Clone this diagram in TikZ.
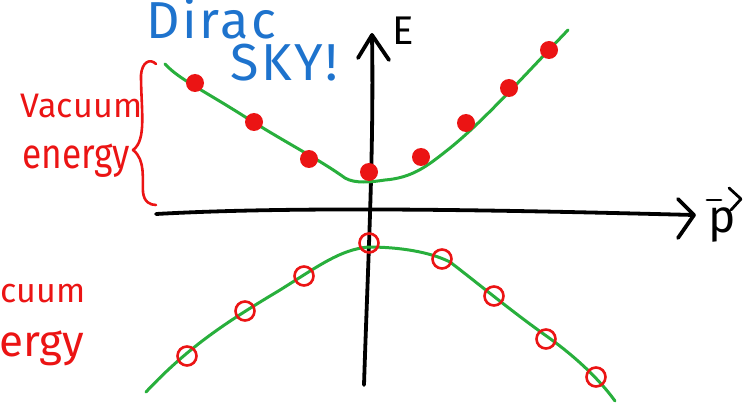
\documentclass[tikz,border=0pt]{standalone}
\usepackage{fontspec}
\setmainfont{Fira Sans}
\definecolor{cgreen}{RGB}{40,175,60}
\definecolor{cred}{RGB}{235,20,20}
\definecolor{cblue}{RGB}{30,115,205}
\begin{document}
\begin{tikzpicture}[x=1pt,y=-1pt,
  axisline/.style={line width=3.8pt,black,line cap=round,line join=round},
  curve/.style={line width=3pt,cgreen,line cap=round},
  filleddot/.style={circle,fill=cred,inner sep=0pt,minimum size=18pt},
  opendot/.style={circle,draw=cred,line width=2.6pt,inner sep=0pt,minimum size=19pt},
  redtext/.style={text=cred,inner sep=0pt,font=\fontsize{34}{34}\selectfont\addfontfeature{LetterSpace=1}},
  bigred/.style={text=cred,inner sep=0pt,font=\fontsize{42}{42}\selectfont},
  bluetext/.style={text=cblue,inner sep=0pt,font=\fontsize{52}{52}\selectfont\addfontfeature{LetterSpace=5}}]
\useasboundingbox (0,0) rectangle (750,409);
% texts
\node[bluetext,anchor=base west] (dirac) at (146,39) {Dirac};
\node[bluetext,anchor=base west] (sky) at (230,81) {SKY!};
\node[inner sep=0pt,anchor=base west,font=\fontsize{40}{40}\selectfont] (elabel) at (392,45) {E};
\node[inner sep=0pt,anchor=base west,font=\fontsize{46}{46}\selectfont] (plabel) at (708,233) {p};
\node[redtext,anchor=base west] (vac1) at (20,118) {Vacuum};
\node[bigred,anchor=base west,xscale=0.84] (en1) at (22,168) {energy};
\node[redtext,anchor=base west] (vac2) at (0,302) {cuum};
\node[bigred,anchor=base west,font=\fontsize{44}{44}\selectfont] (en2) at (-1,356) {ergy};
% brace
\draw[cred,line width=2.6pt,line cap=round,line join=round]
  (156,64) .. controls (150,58) and (142,62) .. (141,75)
  .. controls (141,110) and (147,140) .. (133,150)
  .. controls (146,160) and (142,180) .. (143,192)
  .. controls (144,202) and (150,205) .. (156,205);
% axes
\coordinate (vbot) at (364,385);
\coordinate (vtop) at (372,35);
\draw[axisline] (vbot) .. controls (368,260) and (374,150) .. (vtop);
\draw[axisline] (358,58) -- (vtop) -- (389,60);
\coordinate (hleft) at (156,214);
\coordinate (hright) at (694,215);
\draw[axisline] (hleft) .. controls (300,206) and (500,210) .. (hright);
\draw[axisline] (678,199) -- (hright) -- (678,238);
% vector arrow over p
\draw[line width=2.8pt,line cap=round] (707,200) -- (721,200);
\draw[line width=2.8pt,line cap=round,line join=round] (729,188) -- (741,199) -- (731,210);
% upper curve
\draw[curve] (165,64) .. controls (180,80) and (200,88) .. (250,120)
  .. controls (290,145) and (320,160) .. (345,178)
  .. controls (355,184) and (372,182) .. (385,180)
  .. controls (410,178) and (425,168) .. (445,152)
  .. controls (480,125) and (520,80) .. (568,30);
\foreach \p [count=\i] in {(195,83),(254,122),(309,159),(369,172),(421,157),(466,123),(509,88),(549,50)}
  \node[filleddot] (fd\i) at \p {};
% lower curve
\draw[curve] (146,392) .. controls (190,345) and (230,320) .. (280,290)
  .. controls (320,265) and (340,250) .. (368,247)
  .. controls (400,247) and (430,252) .. (450,262)
  .. controls (480,285) and (510,310) .. (545,335)
  .. controls (575,356) and (600,380) .. (615,401);
\foreach \p [count=\i] in {(187,356),(245,311),(304,276),(369,243),(442,259),(494,296),(546,339),(596,377)}
  \node[opendot] (od\i) at \p {};
\end{tikzpicture}
\end{document}
